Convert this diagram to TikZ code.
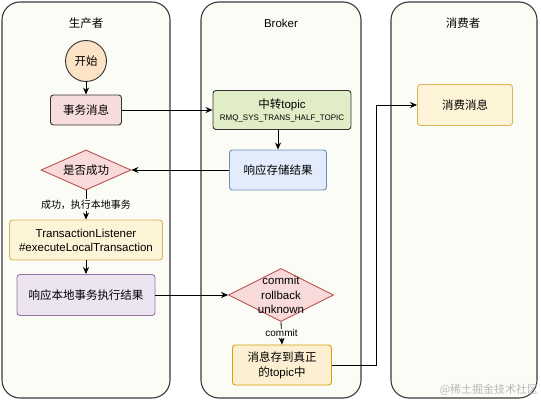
\documentclass[tikz,border=0pt]{standalone}
\usepackage{fontspec}
\setmainfont{Liberation Sans}
\newfontfamily\cjk{Noto Sans CJK SC}
\usetikzlibrary{shapes.geometric,arrows.meta}
\definecolor{lanefill}{HTML}{FCFCF7}
\definecolor{lanedraw}{HTML}{3A3A3A}
\definecolor{startfill}{HTML}{FCE3C6}
\definecolor{msgfill}{HTML}{F7DCDC}
\definecolor{halffill}{HTML}{E0EDC6}
\definecolor{bluefill}{HTML}{E2ECFA}
\definecolor{bluedraw}{HTML}{6C8EBF}
\definecolor{redfill}{HTML}{F9DADA}
\definecolor{reddraw}{HTML}{B85450}
\definecolor{yelfill}{HTML}{FDF3D6}
\definecolor{yeldraw}{HTML}{D6B656}
\definecolor{purfill}{HTML}{ECE4F0}
\definecolor{purdraw}{HTML}{9673A6}
\definecolor{orafill}{HTML}{FDF0D2}
\definecolor{oradraw}{HTML}{D7A000}
\begin{document}
\begin{tikzpicture}[x=1pt,y=-1pt,
  lane/.style={draw=lanedraw, line width=1.1pt, fill=lanefill, rounded corners=18pt},
  title/.style={font=\fontsize{11.5}{14}\selectfont},
  box/.style={draw=black!80, line width=0.9pt, rounded corners=3pt, align=center, inner sep=2pt,
    font=\fontsize{11.5}{15}\selectfont},
  dia/.style={diamond, draw=reddraw, fill=redfill, line width=0.9pt, inner sep=0pt},
  txt/.style={align=center, font=\fontsize{11.5}{15}\selectfont},
  arr/.style={-{Stealth[length=7pt,width=6pt]}, line width=0.8pt, draw=black}]
\fill[white] (0,0) rectangle (541,401);
\useasboundingbox (0,0) rectangle (541,401);
% lanes
\draw[lane] (2,2) rectangle (170,398);
\draw[lane] (201,2) rectangle (361,398);
\draw[lane] (391,2) rectangle (537,398);
\node[title] (t1) at (86,23) {\cjk 生产者};
\node[title] (t2) at (281,23) {Broker};
\node[title] (t3) at (463,23) {\cjk 消费者};
% producer
\node[circle, draw=black!80, line width=0.9pt, fill=startfill, minimum size=41pt, inner sep=0pt,
  font=\fontsize{11.5}{14}\selectfont] (start) at (86,61) {\cjk 开始};
\node[box, fill=msgfill, minimum width=71pt, minimum height=30pt] (msg) at (86,110) {\cjk 事务消息};
\node[dia, minimum width=90pt, minimum height=40pt] (ok) at (86,170) {};
\node[txt] (okt) at (86,170) {\cjk 是否成功};
\node[box, fill=yelfill, draw=yeldraw, minimum width=153pt, minimum height=40pt, inner sep=1pt,
  font=\fontsize{11.5}{14}\selectfont] (tl) at (86,240) {TransactionListener\\\#executeLocalTransaction};
\node[box, fill=purfill, draw=purdraw, minimum width=138pt, minimum height=41pt] (resp) at (86,295) {\cjk 响应本地事务执行结果};
% broker
\node[box, fill=halffill, minimum width=138pt, minimum height=39pt, inner sep=1pt] (half) at (282,110)
  {{\cjk 中转}topic\\[-3pt]{\fontsize{8}{10}\selectfont RMQ\_SYS\_TRANS\_HALF\_TOPIC}};
\node[box, fill=bluefill, draw=bluedraw, minimum width=97pt, minimum height=40pt] (store) at (278,170) {\cjk 响应存储结果};
\node[dia, minimum width=105pt, minimum height=53pt] (cr) at (281,295) {};
\node[txt, font=\fontsize{11.5}{14.5}\selectfont] (crt) at (281,295) {commit\\rollback\\unknown};
\node[box, fill=orafill, draw=oradraw, minimum width=99pt, minimum height=40pt, inner sep=1pt] (real) at (282,365)
  {{\cjk 消息存到真正}\\{\cjk 的}topic{\cjk 中}};
% consumer
\node[box, fill=yelfill, draw=yeldraw, minimum width=95pt, minimum height=41pt] (consume) at (465,105) {\cjk 消费消息};
\coordinate (turn) at (376,365);
% connectors
\draw[arr] (start) -- (msg);
\draw[arr] (msg.east) -- (half.west);
\draw[arr] (store.north |- half.south) -- (store.north);
\draw[arr] (store.west) -- (ok.east);
\draw[arr] (ok.south) -- node[fill=lanefill, inner sep=1pt, font=\fontsize{10}{12}\selectfont] (l1) {\cjk 成功，执行本地事务} (tl.north);
\draw[arr] (tl) -- (resp);
\draw[arr] (resp.east) -- (cr.west);
\draw[arr] (cr.south) -- node[fill=lanefill, inner sep=1pt, font=\fontsize{10}{12}\selectfont] (l2) {commit} (real.north);
\draw[arr] (real.east) -- (turn) |- (consume.west);
\node[text=black!28, font=\fontsize{11}{13}\selectfont] (wm) at (489,390) {\cjk @稀土掘金技术社区};
\end{tikzpicture}
\end{document}
